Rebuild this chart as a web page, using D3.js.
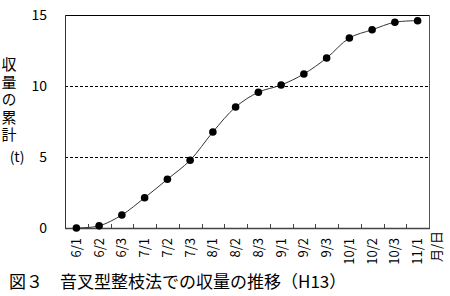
<!DOCTYPE html>
<html>
<head>
<meta charset="utf-8">
<script src="https://cdn.jsdelivr.net/npm/d3@7"></script>
<style>
  body { margin: 0; background: #fff; }
  text { font-family: "Noto Sans CJK JP", sans-serif; fill: #000; }
</style>
</head>
<body>
<div class="chart"></div>
<script>
// 音叉型整枝法での収量の推移 (H13)
var categories = ["6/1", "6/2", "6/3", "7/1", "7/2", "7/3", "8/1", "8/2",
  "8/3", "9/1", "9/2", "9/3", "10/1", "10/2", "10/3", "11/1"];
var yieldTotal = [0, 0.15, 0.92, 2.13, 3.43, 4.77, 6.76, 8.52,
  9.56, 10.07, 10.85, 11.97, 13.38, 13.96, 14.49, 14.6];
var yTicks = [0, 5, 10, 15];
var yTitle = "収量の累計";

var width = 450, height = 296;
var plotLeft = 65, plotRight = 429, plotTop = 15, plotBottom = 228;

var svg = d3.select(".chart")
  .append("svg")
  .attr("width", width)
  .attr("height", height);

var x = d3.scaleBand().domain(categories).range([plotLeft, plotRight]).padding(0);
var y = d3.scaleLinear().domain([0, 15]).range([plotBottom, plotTop]);

// dashed gridlines at 5 and 10
svg.selectAll(".grid")
  .data(yTicks.filter(function (d) { return d > 0 && d < 15; }))
  .enter()
  .append("line")
  .attr("x1", plotLeft)
  .attr("x2", plotRight)
  .attr("y1", function (d) { return Math.round(y(d)) + 0.5; })
  .attr("y2", function (d) { return Math.round(y(d)) + 0.5; })
  .style("stroke", "#000")
  .style("stroke-width", 1)
  .style("stroke-dasharray", "3,2");

// frame
svg.append("line").attr("x1", plotLeft).attr("x2", plotRight)
  .attr("y1", plotTop + 0.5).attr("y2", plotTop + 0.5)
  .style("stroke", "#000");
svg.append("line").attr("x1", plotRight + 0.5).attr("x2", plotRight + 0.5)
  .attr("y1", plotTop).attr("y2", plotBottom)
  .style("stroke", "#555");
svg.append("line").attr("x1", plotLeft + 0.5).attr("x2", plotLeft + 0.5)
  .attr("y1", plotTop).attr("y2", plotBottom + 1)
  .style("stroke", "#333");
svg.append("line").attr("x1", plotLeft).attr("x2", plotRight + 1)
  .attr("y1", plotBottom + 0.5).attr("y2", plotBottom + 0.5)
  .style("stroke", "#444")
  .style("stroke-width", 1.5);

// inward ticks between categories
svg.selectAll(".xtick")
  .data(categories.slice(1))
  .enter()
  .append("line")
  .attr("x1", function (d) { return Math.round(x(d)) + 0.5; })
  .attr("x2", function (d) { return Math.round(x(d)) + 0.5; })
  .attr("y1", plotBottom)
  .attr("y2", plotBottom - 4)
  .style("stroke", "#444");

// y tick labels
svg.selectAll(".ylab")
  .data(yTicks)
  .enter()
  .append("text")
  .attr("x", 47)
  .attr("y", function (d) { return y(d) + 5; })
  .attr("text-anchor", "end")
  .style("font-size", "14px")
  .text(function (d) { return d; });

// y title, written vertically
svg.append("text")
  .attr("x", 9)
  .attr("y", 57)
  .style("writing-mode", "vertical-rl")
  .style("font-size", "15px")
  .style("letter-spacing", "2.5px")
  .text(yTitle);
svg.append("text")
  .attr("x", 17)
  .attr("y", 162)
  .attr("text-anchor", "middle")
  .style("font-size", "14px")
  .text("(t)");

// x labels rotated
svg.selectAll(".xlab")
  .data(categories)
  .enter()
  .append("text")
  .attr("transform", function (d) {
    return "translate(" + (x(d) + x.bandwidth() / 2 + 4.5) + ",238) rotate(-90)";
  })
  .attr("text-anchor", "end")
  .style("font-size", "13px")
  .text(function (d) { return d; });

svg.append("text")
  .attr("transform", "translate(441,231) rotate(-90)")
  .attr("text-anchor", "end")
  .style("font-size", "13px")
  .text("月/日");

// line + markers
var line = d3.line()
  .x(function (d, i) { return x(categories[i]) + x.bandwidth() / 2; })
  .y(function (d) { return y(d); })
  .curve(d3.curveCatmullRom.alpha(0.5));

svg.append("path")
  .datum(yieldTotal)
  .attr("d", line)
  .style("fill", "none")
  .style("stroke", "#333")
  .style("stroke-width", 1);

svg.selectAll(".dot")
  .data(yieldTotal)
  .enter()
  .append("circle")
  .attr("cx", function (d, i) { return x(categories[i]) + x.bandwidth() / 2; })
  .attr("cy", function (d) { return y(d); })
  .attr("r", 3.8)
  .style("fill", "#000");

// caption
svg.append("text")
  .attr("x", 9)
  .attr("y", 288)
  .style("font-size", "17px")
  .text("図３　音叉型整枝法での収量の推移（H13）");
</script>
</body>
</html>
